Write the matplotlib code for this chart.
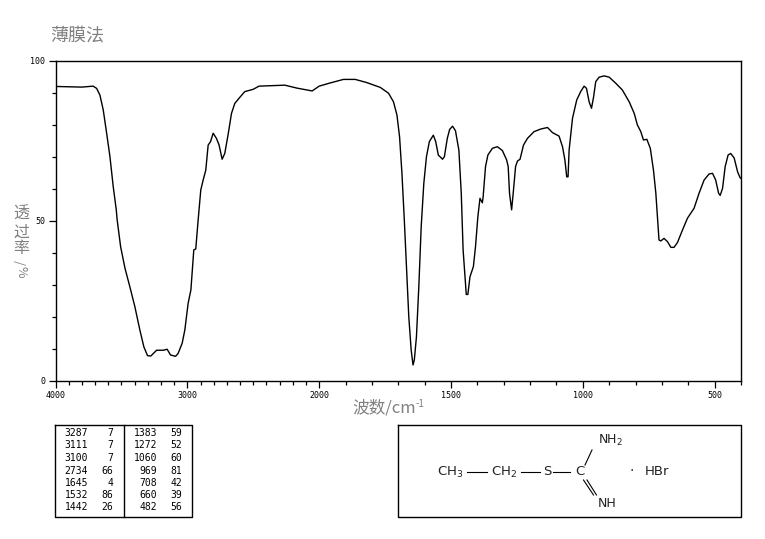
import numpy as np
from matplotlib import pyplot as plt

# 读图得到的谱线
wavenumber = [4000, 3900, 3800, 3714, 3688, 3663, 3638, 3612, 3587, 3562, 3539, 3532, 3506, 3473, 3436, 3398,
              3360, 3330, 3302, 3277, 3233, 3183, 3153, 3127, 3089, 3070, 3039, 3019, 2994, 2973, 2951, 2936,
              2918, 2898, 2880, 2860, 2842, 2824, 2804, 2779, 2759, 2736, 2716, 2691, 2665, 2640, 2602, 2564,
              2501, 2456, 2260, 2170, 2053, 2000, 1958, 1908, 1863, 1819, 1768, 1737, 1718, 1705, 1695, 1686,
              1677, 1669, 1660, 1651, 1644, 1639, 1631, 1622, 1613, 1603, 1593, 1582, 1567, 1558, 1548, 1532,
              1525, 1514, 1505, 1494, 1483, 1470, 1461, 1454, 1446, 1442, 1436, 1428, 1415, 1407, 1398, 1390,
              1381, 1378, 1369, 1360, 1343, 1324, 1305, 1289, 1283, 1278, 1270, 1264, 1255, 1248, 1238, 1225,
              1210, 1185, 1160, 1134, 1115, 1090, 1077, 1068, 1061, 1056, 1052, 1039, 1023, 1008, 995, 986,
              976, 967, 959, 951, 938, 919, 900, 875, 850, 824, 805, 793, 780, 770, 757, 744,
              732, 723, 717, 711, 704, 692, 679, 666, 654, 641, 622, 603, 578, 559, 540, 521,
              508, 496, 485, 479, 470, 460, 449, 439, 426, 413, 404, 400]
transmittance = [91.9, 91.8, 91.7, 92.0, 91.3, 89.2, 84.6, 77.3, 70.0, 60.6, 53.4, 50.2, 41.9, 35.2, 29.4, 23.2,
                 15.9, 10.7, 7.9, 7.8, 9.6, 9.6, 9.9, 8.1, 7.7, 8.6, 11.8, 15.9, 24.2, 28.4, 40.9, 41.2,
                 50.2, 59.6, 62.7, 65.8, 73.6, 74.7, 77.3, 75.7, 73.6, 69.2, 71.0, 76.8, 83.5, 86.6, 88.5, 90.3,
                 91.0, 92.0, 92.3, 91.4, 90.5, 92.0, 93.0, 94.1, 94.1, 93.1, 91.6, 89.8, 87.1, 83.0, 76.2, 64.8,
                 50.2, 35.7, 20.0, 9.7, 5.0, 6.6, 13.8, 29.4, 48.1, 61.7, 70.0, 74.7, 76.7, 74.7, 70.5, 69.2,
                 70.0, 75.7, 78.5, 79.5, 78.1, 72.0, 58.6, 40.9, 31.5, 27.0, 27.0, 32.5, 35.7, 41.9, 51.3, 57.0,
                 55.6, 57.5, 66.9, 70.5, 72.6, 73.1, 71.9, 69.0, 66.9, 58.6, 53.4, 58.6, 66.9, 68.6, 69.2, 73.6,
                 75.7, 77.8, 78.6, 79.1, 77.5, 76.4, 73.1, 69.0, 63.7, 63.7, 72.0, 82.0, 87.7, 90.3, 92.0, 91.3,
                 87.1, 85.1, 88.7, 93.4, 94.8, 95.2, 94.8, 92.9, 90.8, 87.1, 83.5, 79.9, 77.8, 75.2, 75.4, 72.6,
                 65.8, 58.6, 51.3, 44.0, 43.7, 44.5, 43.5, 41.7, 41.7, 43.2, 47.1, 50.8, 53.9, 58.6, 62.7, 64.6,
                 64.8, 62.7, 58.6, 57.9, 60.1, 66.9, 70.5, 71.0, 69.6, 65.3, 63.5, 63.2]

# 峰值表
peak_wn_left = [3287, 3111, 3100, 2734, 1645, 1532, 1442]
peak_t_left = [7, 7, 7, 66, 4, 86, 26]
peak_wn_right = [1383, 1272, 1060, 969, 708, 660, 482]
peak_t_right = [59, 52, 60, 81, 42, 39, 56]

x_major = [4000, 3000, 2000, 1500, 1000, 500]
y_labels = [0, 50, 100]

GRAY = '#808080'
TICK_FONT = 'DejaVu Sans Mono'
CJK = ['Noto Sans CJK SC', 'DejaVu Sans']


# 横轴在 2000 处变比例：2000 以上压缩一半
def forward(w):
    w = np.asarray(w, dtype=float)
    return np.where(w > 2000, 2000 + (w - 2000) * 0.5, w)


def inverse(p):
    p = np.asarray(p, dtype=float)
    return np.where(p > 2000, 2000 + (p - 2000) * 2.0, p)


if __name__ == "__main__":
    W, H = 765, 539
    fig = plt.figure(figsize=(W / 100, H / 100), dpi=100, facecolor='white')

    # 主图
    ax = fig.add_axes([55.5 / W, (H - 381) / H, 685.5 / W, 320.5 / H])
    ax.set_xscale('function', functions=(forward, inverse))
    ax.plot(wavenumber, transmittance, color='black', lw=1.0)
    ax.set_xlim(4000, 400)
    ax.set_ylim(0, 100)
    ax.set_xticks(x_major)
    ax.set_xticklabels([str(v) for v in x_major], family=TICK_FONT, fontsize=6)
    ax.set_xticks(np.arange(400, 4000, 100), minor=True)
    ax.set_yticks(y_labels)
    ax.set_yticklabels([str(v) for v in y_labels], family=TICK_FONT, fontsize=6)
    ax.set_yticks(np.arange(0, 100, 10), minor=True)
    ax.tick_params(axis='both', which='major', length=5, width=0.9, pad=2.5)
    ax.tick_params(axis='both', which='minor', length=3, width=0.9)
    for s in ax.spines.values():
        s.set_linewidth(1.0)

    # 其余内容用像素坐标画
    ov = fig.add_axes([0, 0, 1, 1])
    ov.set_xlim(0, W)
    ov.set_ylim(H, 0)
    ov.axis('off')
    ov.patch.set_alpha(0)

    ov.text(50, 36, '薄膜法', family=CJK, fontsize=13, color=GRAY, va='center', ha='left')

    # 纵轴标题，字头朝上
    for ch, y in zip('透过率', [214, 232, 249]):
        ov.text(21, y, ch, family=CJK, fontsize=11.5, color=GRAY, ha='center', va='center')
    ov.text(21, 263, '/', family=CJK, fontsize=9, color=GRAY, ha='center', va='center', rotation=90)
    ov.text(21, 272, '%', family=CJK, fontsize=9, color=GRAY, ha='center', va='center', rotation=-90)

    ov.text(352, 408, '波数/cm', family=CJK, fontsize=12, color=GRAY, ha='left', va='center')
    ov.text(416, 404, '-1', family=CJK, fontsize=7, color=GRAY, ha='left', va='center')

    # 峰值表
    ov.plot([55.5, 192.5, 192.5, 55.5, 55.5], [424.5, 424.5, 516.5, 516.5, 424.5], color='black', lw=1.0)
    ov.plot([124.5, 124.5], [424.5, 516.5], color='black', lw=1.0)
    rows_y = [433.5, 445.5, 458, 470.5, 482.5, 495, 507.5]
    for i, y in enumerate(rows_y):
        ov.text(88, y, str(peak_wn_left[i]), family=TICK_FONT, fontsize=7, ha='right', va='center')
        ov.text(113, y, str(peak_t_left[i]), family=TICK_FONT, fontsize=7, ha='right', va='center')
        ov.text(157, y, str(peak_wn_right[i]), family=TICK_FONT, fontsize=7, ha='right', va='center')
        ov.text(182, y, str(peak_t_right[i]), family=TICK_FONT, fontsize=7, ha='right', va='center')

    # 结构式
    ov.plot([398.5, 741, 741, 398.5, 398.5], [424.5, 424.5, 516.5, 516.5, 424.5], color='black', lw=1.0)
    bonds = [([467, 487], [472, 472]), ([521, 540], [472, 472]), ([553, 570], [472, 472]),
             ([585, 592], [465, 450]), ([583.5, 593.5], [480, 495]), ([587, 596.5], [480, 495])]
    for bx, by in bonds:
        ov.plot(bx, by, color='black', lw=0.8)
    chem = [(437, 472, 'CH$_3$', 9.5), (491, 472, 'CH$_2$', 9.5), (543, 471.5, 'S', 9.5), (575, 471.5, 'C', 9.5),
            (598, 440.5, 'NH$_2$', 9), (598, 503.5, 'NH', 9), (645, 471.5, 'HBr', 9.5)]
    for x, y, s, size in chem:
        ov.text(x, y, s, fontsize=size, family='DejaVu Sans', ha='left', va='center', color='#222222')
    ov.text(632, 471, '\u00b7', fontsize=10, family='DejaVu Sans', ha='center', va='center', color='#222222')

    plt.savefig('out.png', dpi=100, facecolor='white')
